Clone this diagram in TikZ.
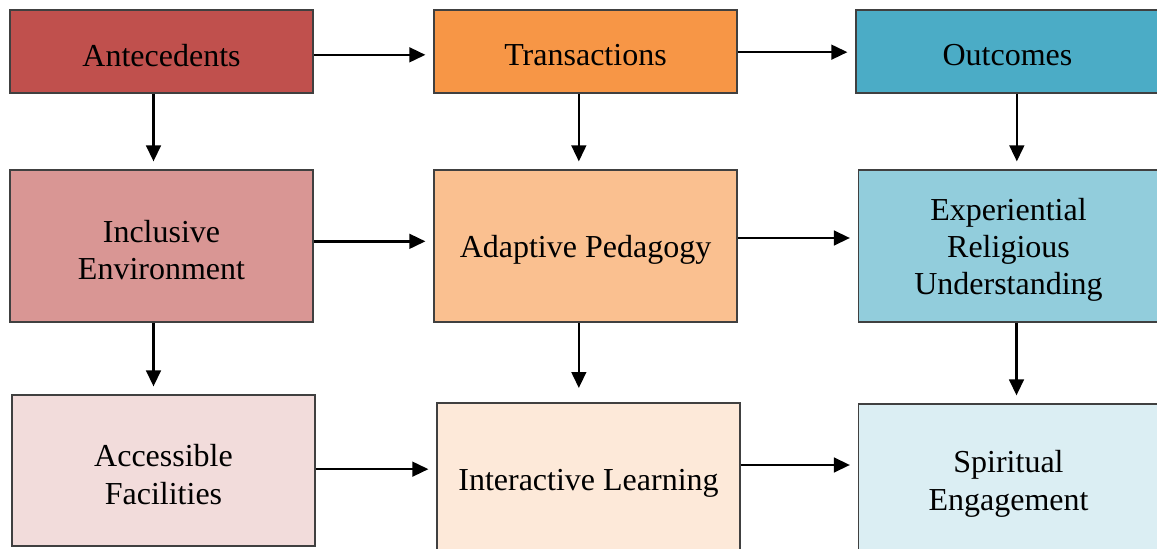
\documentclass[tikz,border=0pt]{standalone}
\usepackage{fontspec}
\setmainfont{Liberation Serif}
\usetikzlibrary{arrows.meta}
\definecolor{c1a}{HTML}{C0504D}
\definecolor{c2a}{HTML}{F79646}
\definecolor{c3a}{HTML}{4BACC6}
\definecolor{c1b}{HTML}{D99694}
\definecolor{c2b}{HTML}{FAC090}
\definecolor{c3b}{HTML}{92CDDC}
\definecolor{c1c}{HTML}{F2DCDB}
\definecolor{c2c}{HTML}{FDE9D9}
\definecolor{c3c}{HTML}{DBEEF3}
\definecolor{edge}{HTML}{404040}
\tikzset{
  box/.style={draw=edge, line width=0.9pt, inner sep=0pt},
  txt/.style={align=center, inner sep=0pt, yshift=-3pt,
    font=\fontsize{24}{28}\selectfont},
  arr/.style={line width=1.8pt, -{Triangle[length=12pt,width=11pt]}, shorten >=6pt}
}
\begin{document}
\begin{tikzpicture}[x=0.75pt,y=-0.75pt]
\useasboundingbox (0,0) rectangle (1157,549);
\clip (0,0) rectangle (1157,549);
% row 1
\node[box, fill=c1a, minimum width=227.25pt, minimum height=62.25pt,
  label={[txt]center:Antecedents}] (ant) at (161.5,51.5) {};
\node[box, fill=c2a, minimum width=227.25pt, minimum height=62.25pt,
  label={[txt]center:Transactions}] (tra) at (585.5,51.5) {};
\node[box, fill=c3a, minimum width=227.25pt, minimum height=62.25pt,
  label={[txt]center:Outcomes}] (out) at (1007.5,51.5) {};
% row 2
\node[box, fill=c1b, minimum width=227.25pt, minimum height=114pt,
  label={[txt]center:{Inclusive\\Environment}}] (inc) at (161.5,246) {};
\node[box, fill=c2b, minimum width=227.25pt, minimum height=114pt,
  label={[txt]center:{Adaptive Pedagogy}}] (ada) at (585.5,246) {};
\node[box, fill=c3b, minimum width=225pt, minimum height=114pt,
  label={[txt]center:{Experiential\\Religious\\Understanding}}] (exp) at (1008.5,246) {};
% row 3
\node[box, fill=c1c, minimum width=227.25pt, minimum height=113.25pt,
  label={[txt]center:{Accessible\\Facilities}}] (acc) at (163.5,470.5) {};
\node[box, fill=c2c, minimum width=227.25pt, minimum height=114pt,
  label={[txt]center:{Interactive Learning}}] (int) at (588.5,479) {};
\node[box, fill=c3c, minimum width=225pt, minimum height=114pt,
  label={[txt]center:{Spiritual\\Engagement}}] (spi) at (1008.5,480) {};
% horizontal arrows
\draw[arr] ([yshift=-2.5pt]ant.east) -- ([yshift=-2.5pt]ant.east -| tra.west);
\draw[arr] ([yshift=-0.5pt]tra.east) -- ([yshift=-0.5pt]tra.east -| out.west);
\draw[arr] ([yshift=3.5pt]inc.east) -- ([yshift=3.5pt]inc.east -| ada.west);
\draw[arr] ([yshift=6pt]ada.east) -- ([yshift=6pt]ada.east -| exp.west);
\draw[arr] ([yshift=1pt]acc.east) -- ([yshift=1pt]acc.east -| int.west);
\draw[arr] ([yshift=10.5pt]int.east) -- ([yshift=10.5pt]int.east -| spi.west);
% vertical arrows
\draw[arr] ([xshift=-6pt]ant.south) -- ([xshift=-6pt]ant.south |- inc.north);
\draw[arr] ([xshift=-5pt]tra.south) -- ([xshift=-5pt]tra.south |- ada.north);
\draw[arr] ([xshift=7pt]out.south) -- ([xshift=7pt]out.south |- exp.north);
\draw[arr] ([xshift=-6pt]inc.south) -- ([xshift=-6pt]inc.south |- acc.north);
\draw[arr] ([xshift=-5pt]ada.south) -- ([xshift=-5pt]ada.south |- 0,396);
\draw[arr] ([xshift=6pt]exp.south) -- ([xshift=6pt]exp.south |- spi.north);
\end{tikzpicture}
\end{document}
